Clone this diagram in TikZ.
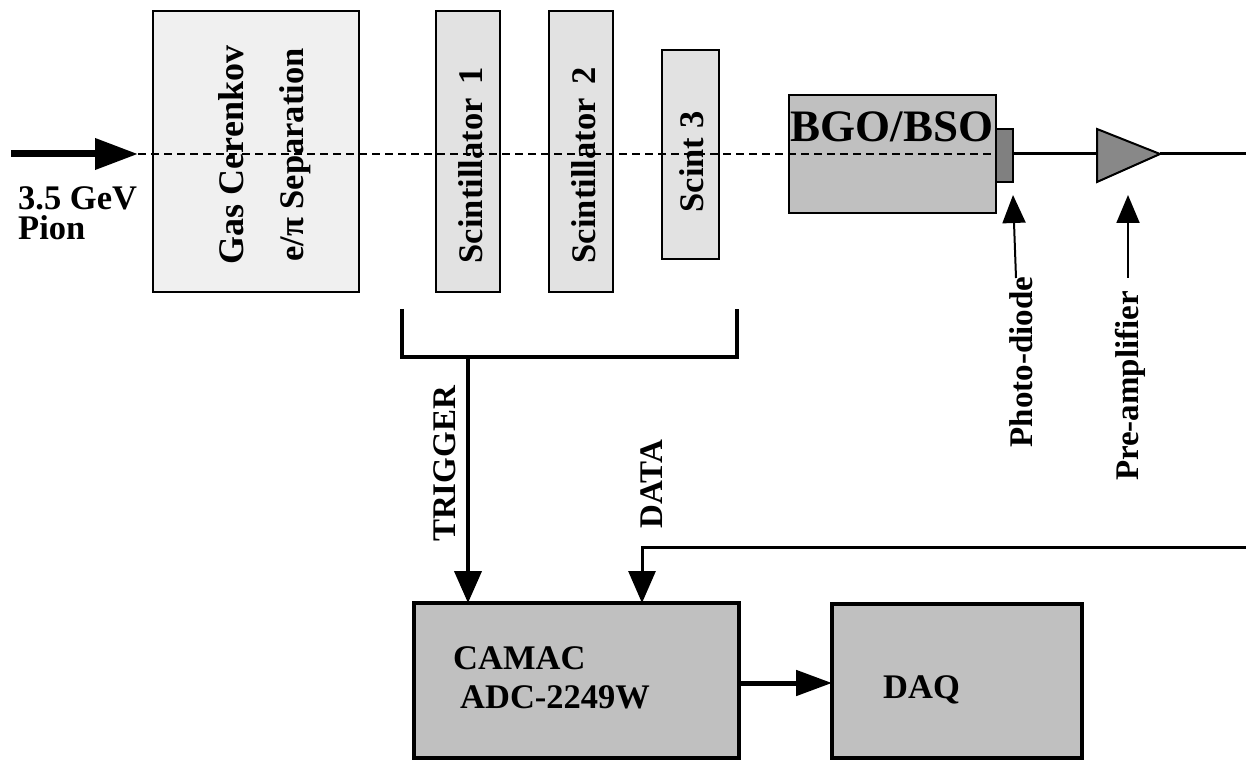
\documentclass[tikz,border=0pt]{standalone}
\usepackage{fontspec}
\setmainfont{Liberation Serif}
\usetikzlibrary{arrows.meta,calc}
\definecolor{gasfill}{HTML}{F0F0F0}
\definecolor{scifill}{HTML}{E2E2E2}
\definecolor{boxfill}{HTML}{C0C0C0}
\definecolor{pdfill}{HTML}{808080}
\definecolor{ampfill}{HTML}{888888}
\tikzset{
  detbox/.style={draw=black, line width=2.5pt, inner sep=0pt, outer sep=0pt},
  daqbox/.style={draw=black, line width=4pt, fill=boxfill, inner sep=0pt, outer sep=0pt},
  big/.style={font=\fontsize{34.5}{30}\selectfont\bfseries, inner sep=0pt},
  lab/.style={font=\fontsize{33}{38}\selectfont\bfseries, inner sep=0pt},
  vlab/.style={rotate=90, anchor=base, inner sep=0pt},
  beam/.style={dash pattern=on 8pt off 5pt, line width=1.8pt},
  tipA/.style={-{Triangle[length=32pt,width=27pt]}},
}
\begin{document}
\begin{tikzpicture}[x=1pt,y=1pt]
\useasboundingbox (0,0) rectangle (1246,761);
% detectors
\node[detbox, fill=gasfill, minimum width=206pt, minimum height=281pt] (gas) at (256,609.5) {};
\node[detbox, fill=scifill, minimum width=64pt, minimum height=281pt] (sc1) at (468,609.5) {};
\node[detbox, fill=scifill, minimum width=64pt, minimum height=281pt] (sc2) at (581,609.5) {};
\node[detbox, fill=scifill, minimum width=57pt, minimum height=209pt] (sc3) at (690.5,606.5) {};
\node[detbox, fill=boxfill, minimum width=207pt, minimum height=118pt] (bgo) at (892.5,607) {};
\node[draw=black, line width=2pt, fill=pdfill, inner sep=0pt, outer sep=0pt, minimum width=17pt, minimum height=53pt] (pd) at (1004.5,605.5) {};
% amplifier
\coordinate (ampA) at (1097,632);
\coordinate (ampB) at (1097,579);
\coordinate (amptip) at (1160,607);
\coordinate (ampin) at (1097,607);
\coordinate (outR) at (1246,607);
\draw[line width=3pt] (pd.east |- ampin) -- (ampin);
\draw[line width=3pt] (amptip) -- (outR);
\draw[line width=2pt, fill=ampfill, line join=miter] (ampA) -- (ampB) -- (amptip) -- cycle;
% beam
\coordinate (src) at (11,607);
\coordinate (beamtip) at (138,607);
\draw[line width=7pt, -{Triangle[length=43pt,width=30pt]}] (src) -- (beamtip);
\draw[beam] (beamtip) -- (bgo.east |- beamtip);
% labels of detectors
\node[big, align=left, anchor=base west] (gev) at (18,521) {3.5 GeV\\Pion};
\node[font=\fontsize{36}{40}\selectfont\bfseries, vlab] (t1) at (243,606) {Gas Cerenkov};
\node[big, vlab] (t2) at (303,606) {e/π Separation};
\node[big, vlab] (t3) at (482,596) {Scintillator\, 1};
\node[big, vlab] (t4) at (595,596) {Scintillator\, 2};
\node[big, vlab] (t5) at (703,599) {Scint 3};
\node[font=\fontsize{45}{50}\selectfont\bfseries, inner sep=0pt, anchor=base] (t6) at (892,619) {BGO/BSO};
% pointer arrows
\coordinate (pdfoot) at (1016,483);
\coordinate (pdhead) at (1013,566);
\coordinate (ampfoot) at (1128,483);
\coordinate (amphead) at (1128,566);
\draw[line width=2pt, -{Triangle[length=28pt,width=23pt]}] (pdfoot) -- (pdhead);
\draw[line width=2pt, -{Triangle[length=28pt,width=23pt]}] (ampfoot) -- (amphead);
\node[lab, vlab] (t7) at (1032,399) {Photo-diode};
\node[lab, vlab] (t8) at (1138,375) {Pre-amplifier};
% DAQ chain
\node[daqbox, minimum width=325pt, minimum height=155pt] (camac) at (576.5,80.5) {};
\node[daqbox, minimum width=250pt, minimum height=154pt] (daq) at (957,80) {};
\coordinate (brL) at (402,452);
\coordinate (brR) at (737,452);
\coordinate (brk) at (468,404);
\draw[line width=4pt, line join=miter] (brL) -- (brL |- brk) -- (brR |- brk) -- (brR);
\draw[line width=4pt, tipA] (brk) -- (brk |- camac.north);
\coordinate (dataR) at (1246,214);
\coordinate (dataX) at (642,214);
\draw[line width=3pt, tipA, line join=miter] (dataR) -- (dataX) -- (dataX |- camac.north);
\draw[line width=5pt, -{Triangle[length=36pt,width=25pt]}] ([yshift=-2.5pt]camac.east) -- ([yshift=-2.5pt]camac.east -| daq.west);
\node[lab, vlab] (t9) at (455,297) {TRIGGER};
\node[lab, vlab] (t10) at (662,277) {DATA};
\node[big, anchor=base west] (t11) at (453,92) {CAMAC};
\node[big, anchor=base west] (t12) at (460,53) {ADC-2249W};
\node[big, anchor=base west] (t13) at (883,63) {DAQ};
\end{tikzpicture}
\end{document}
